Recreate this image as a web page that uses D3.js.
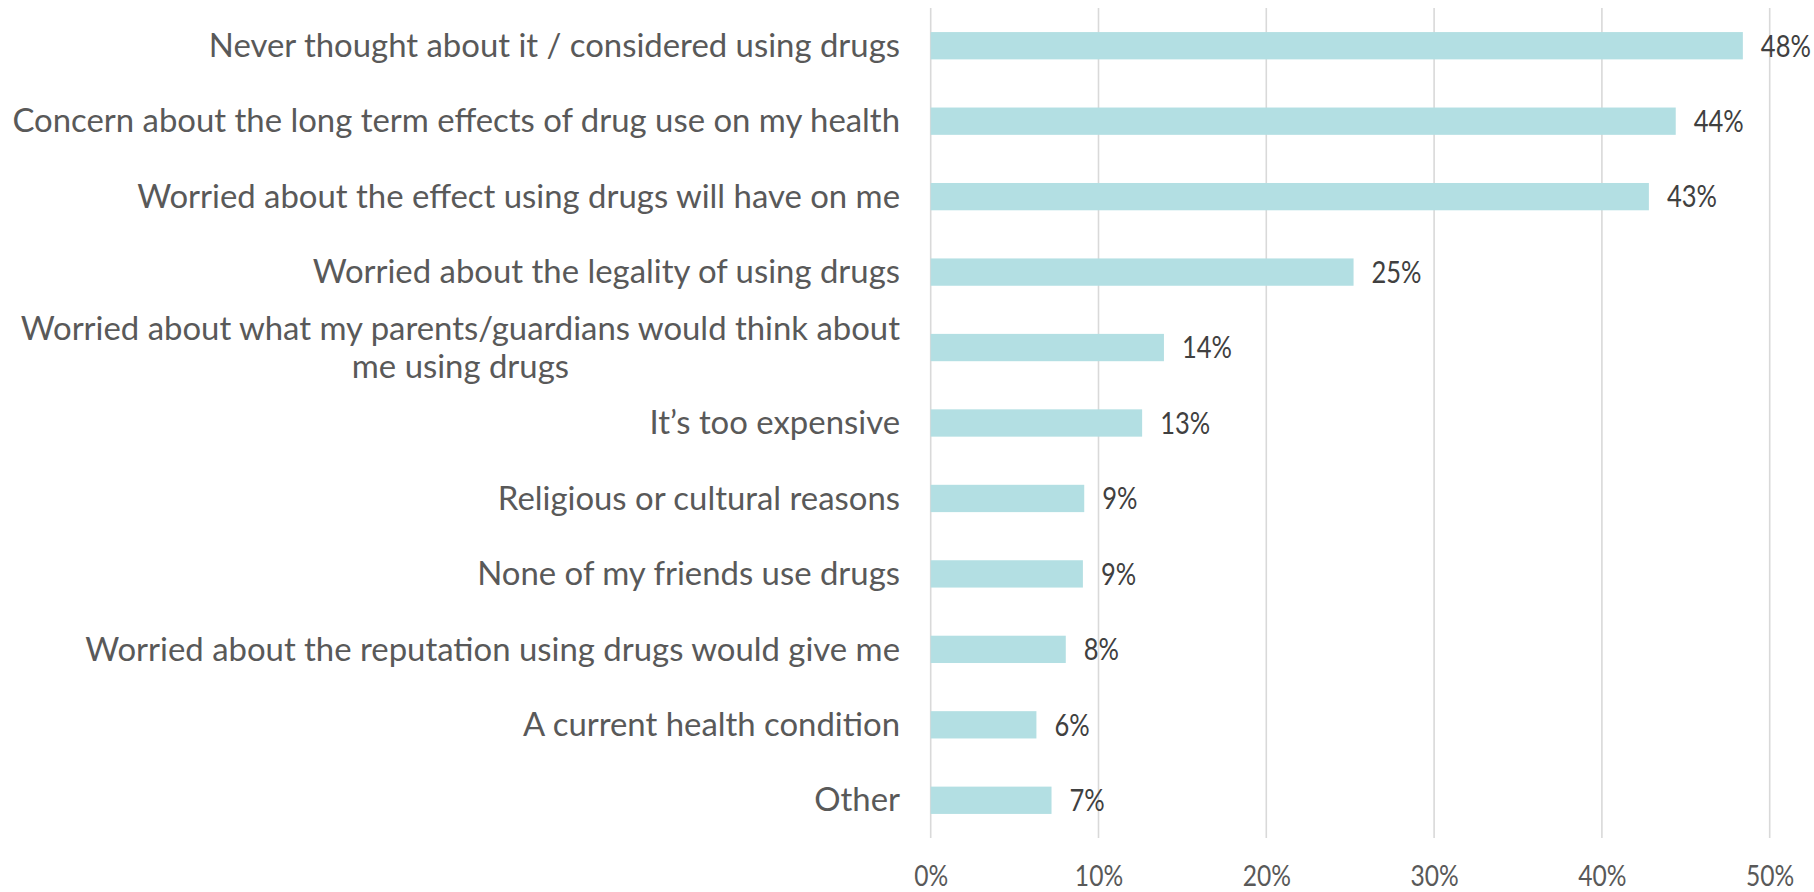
<!DOCTYPE html>
<html>
<head>
<meta charset="utf-8">
<script src="https://cdn.jsdelivr.net/npm/d3@7"></script>
<style>
  html, body { margin: 0; padding: 0; background: #ffffff; }
  svg { display: block; }
</style>
</head>
<body>
<svg id="chart" width="1814" height="892"></svg>
<script>
// ---- data ----
const categories = [
  ["Never thought about it / considered using drugs"],
  ["Concern about the long term effects of drug use on my health"],
  ["Worried about the effect using drugs will have on me"],
  ["Worried about the legality of using drugs"],
  ["Worried about what my parents/guardians would think about", "me using drugs"],
  ["It\u2019s too expensive"],
  ["Religious or cultural reasons"],
  ["None of my friends use drugs"],
  ["Worried about the reputation using drugs would give me"],
  ["A current health condition"],
  ["Other"]
];
const values = [0.484, 0.444, 0.428, 0.252, 0.139, 0.126, 0.0915, 0.0907, 0.0805, 0.063, 0.072];
const valueLabels = ["48%", "44%", "43%", "25%", "14%", "13%", "9%", "9%", "8%", "6%", "7%"];
const tickValues = [0, 0.1, 0.2, 0.3, 0.4, 0.5];
const tickLabels = ["0%", "10%", "20%", "30%", "40%", "50%"];

// ---- layout ----
const svg = d3.select("#chart");
const plotLeft = 930.7, plotRight = 1769.7, plotTop = 8, plotBottom = 838;
const labelRight = 900;
const catFont = "Lato, 'Open Sans', sans-serif";
const numFont = "Lato, 'Open Sans', sans-serif";

function measure(txt, font, size) {
  const p = svg.append("text").style("font-family", font).style("font-size", size + "px").text(txt);
  const w = p.node().getComputedTextLength();
  p.remove();
  return w;
}

const x = d3.scaleLinear().domain([0, 0.5]).range([plotLeft, plotRight]);
const y = d3.scaleBand().domain(d3.range(categories.length))
  .range([plotTop, plotBottom]).paddingInner(0.638).paddingOuter(0.319);

// condensed number look: horizontal squeeze measured against reference widths
const valSize = 30, tickSize = 28;
const valSx = Math.min(1, 50 / measure("48%", numFont, valSize));
const tickSx = Math.min(1, 34 / measure("0%", numFont, tickSize));

// gridlines
svg.append("g").selectAll("line").data(tickValues).join("line")
  .attr("x1", d => x(d)).attr("x2", d => x(d))
  .attr("y1", plotTop).attr("y2", plotBottom)
  .attr("stroke", "#d9d9d9").attr("stroke-width", 1.6);

// tick labels via axis (no lines)
const axis = d3.axisBottom(x)
  .tickValues(tickValues)
  .tickFormat((d, i) => tickLabels[i])
  .tickSize(0)
  .tickPadding(0);
const gAxis = svg.append("g").attr("transform", `translate(0,${plotBottom})`).call(axis);
gAxis.select(".domain").remove();
gAxis.selectAll(".tick line").remove();
gAxis.selectAll(".tick text")
  .attr("y", 0).attr("dy", null)
  .attr("transform", `translate(0,48) scale(${tickSx},1)`)
  .attr("fill", "#595959")
  .style("font-family", numFont)
  .style("font-size", tickSize + "px");

// bars
svg.append("g").selectAll("rect").data(values).join("rect")
  .attr("x", x(0))
  .attr("y", (d, i) => y(i))
  .attr("width", d => x(d) - x(0))
  .attr("height", y.bandwidth())
  .attr("fill", "#b3dfe3");

// value labels
svg.append("g").selectAll("text").data(values).join("text")
  .attr("transform", (d, i) => `translate(${x(d) + 18},${y(i) + y.bandwidth() / 2}) scale(${valSx},1)`)
  .attr("dy", "0.36em")
  .attr("fill", "#404040")
  .style("font-family", numFont)
  .style("font-size", valSize + "px")
  .text((d, i) => valueLabels[i]);

// category labels
const catSize = 32;
const catSx = 888 / measure(categories[1][0], catFont, catSize);

const gCat = svg.append("g").attr("transform", `translate(${labelRight},0) scale(${catSx},1)`);
categories.forEach((lines, i) => {
  const cy = y(i) + y.bandwidth() / 2;
  const t = gCat.append("text")
    .attr("fill", "#595959")
    .style("font-family", catFont)
    .style("font-size", catSize + "px");
  if (lines.length === 1) {
    t.attr("x", 0).attr("y", cy).attr("dy", "0.35em")
      .attr("text-anchor", "end").text(lines[0]);
  } else {
    const lh = 38;
    const ts = lines.map((ln, k) => t.append("tspan").text(ln)
      .attr("y", cy + (k - (lines.length - 1) / 2) * lh).attr("dy", "0.35em"));
    const w = d3.max(ts, s => s.node().getComputedTextLength());
    t.attr("text-anchor", "middle");
    ts.forEach(s => s.attr("x", -w / 2));
  }
});
</script>
</body>
</html>
